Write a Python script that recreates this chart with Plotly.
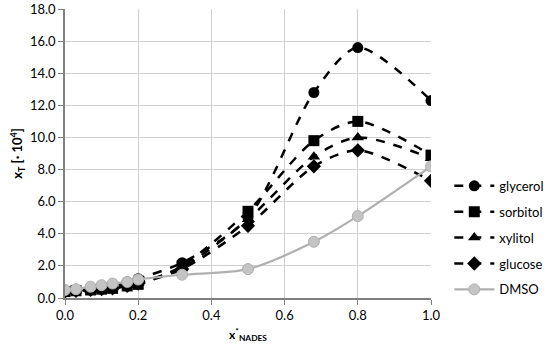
import plotly.graph_objects as go

x_vals = [0.0, 0.03, 0.07, 0.10, 0.13, 0.17, 0.20, 0.32, 0.50, 0.68, 0.80, 1.00]

glycerol = [0.45, 0.5, 0.6, 0.7, 0.8, 1.0, 1.2, 2.2, 5.0, 12.8, 15.6, 12.3]
sorbitol = [0.4, 0.45, 0.5, 0.55, 0.6, 0.75, 0.85, 2.0, 5.4, 9.8, 11.0, 8.9]
xylitol = [0.4, 0.45, 0.5, 0.55, 0.65, 0.8, 0.95, 1.9, 4.9, 8.8, 10.0, 8.7]
glucose = [0.4, 0.45, 0.5, 0.55, 0.6, 0.75, 0.9, 1.8, 4.5, 8.2, 9.2, 7.3]
dmso = [0.5, 0.55, 0.7, 0.8, 0.9, 1.0, 1.15, 1.45, 1.8, 3.5, 5.1, 8.2]

series_names = ["glycerol", "sorbitol", "xylitol", "glucose", "DMSO"]
series_values = [glycerol, sorbitol, xylitol, glucose, dmso]
symbols = ["circle", "square", "triangle-up", "diamond", "circle"]
sizes = [11, 11, 11, 11, 11]

x_ticks = [0.0, 0.2, 0.4, 0.6, 0.8, 1.0]
y_ticks = [0, 2, 4, 6, 8, 10, 12, 14, 16, 18]

fig = go.Figure()
for i, (name, vals) in enumerate(zip(series_names, series_values)):
    if name == "DMSO":
        line = dict(color="#B0B0B0", width=2.2, shape="spline", smoothing=0.8)
        marker = dict(symbol=symbols[i], size=sizes[i], color="#C4C4C4",
                      line=dict(color="#B0B0B0", width=1))
    else:
        line = dict(color="black", width=2.5, dash="dash", shape="spline", smoothing=0.8)
        marker = dict(symbol=symbols[i], size=sizes[i], color="black")
    fig.add_trace(go.Scatter(x=x_vals, y=vals, name=name, mode="lines+markers",
                             line=line, marker=marker, legendgroup=name))

fig.update_layout(
    width=550, height=350,
    margin=dict(l=65, r=119, t=9, b=52, autoexpand=False),
    paper_bgcolor="white", plot_bgcolor="white",
    font=dict(family="Lato, Open Sans, sans-serif", size=12, color="black"),
    showlegend=True,
    legend=dict(x=1.05, y=0.44, xanchor="left", yanchor="top",
                font=dict(size=13), tracegroupgap=6, itemwidth=40),
    xaxis=dict(range=[0, 1.0], tickvals=x_ticks, tickformat=".1f",
               showgrid=True, gridcolor="#D0D0D0", gridwidth=1,
               showline=True, linecolor="#808080", linewidth=1.5,
               ticks="outside", ticklen=5, tickcolor="#808080",
               zeroline=False, automargin=False, tickfont=dict(size=13),
               title=dict(text="<b>x<sup>*</sup><sub>NADES</sub></b>",
                          font=dict(size=12), standoff=8)),
    yaxis=dict(range=[0, 18], tickvals=y_ticks, tickformat=".1f",
               showgrid=True, gridcolor="#D0D0D0", gridwidth=1,
               showline=True, linecolor="#808080", linewidth=1.5,
               ticks="outside", ticklen=5, tickcolor="#808080",
               zeroline=False, automargin=False, tickfont=dict(size=13),
               title=dict(text="<b>x<sub>T</sub> [· 10<sup>4</sup>]</b>",
                          font=dict(size=13), standoff=4)),
)

# remove the default 8px page margin so the figure fills the window exactly
fig.write_html("out.html",
               config={"displayModeBar": False},
               post_script="document.body.style.margin='0';")
